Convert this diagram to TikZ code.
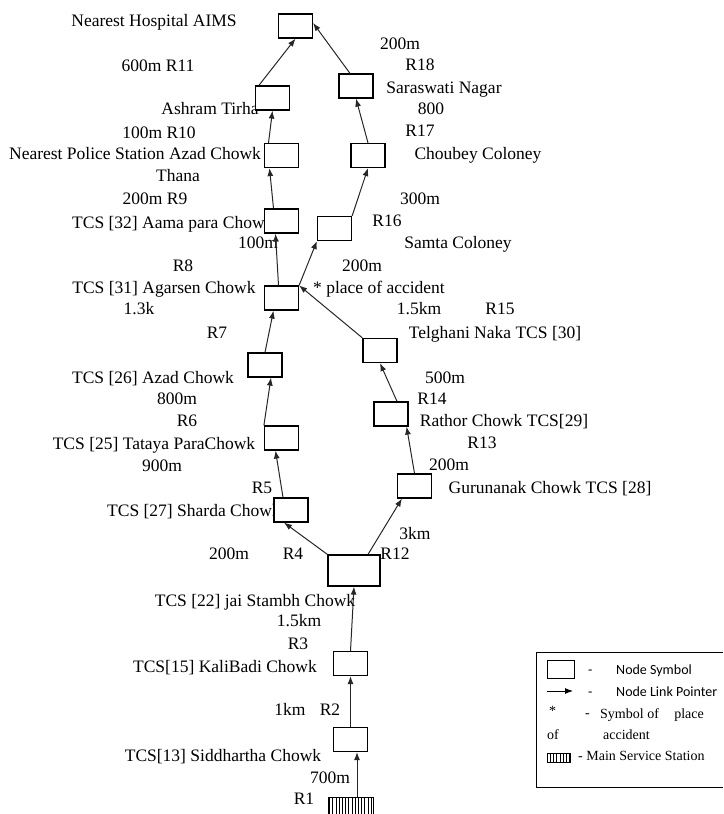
\documentclass[tikz,border=0pt]{standalone}
\usepackage{fontspec}
\setmainfont{Liberation Serif}
\newfontfamily\keyfont{Carlito}
\usetikzlibrary{arrows.meta,patterns.meta}

\begin{document}
\begin{tikzpicture}[x=1pt, y=-1pt, every node/.style={font=\fontsize{17.5}{21}\selectfont, inner sep=0pt, text height=13pt, text depth=1pt}, >={Latex[length=8pt,width=6pt]},
	junction/.style={draw, fill=white, line width=1.2pt, minimum width=34pt, minimum height=24pt, text height=0pt, text depth=0pt},
	hatchbox/.style={draw, line width=0.8pt, pattern={Lines[angle=90,distance=3.2pt,line width=1pt]}, text height=0pt, text depth=0pt},
	link/.style={->, draw=black!85, line width=1pt},
	keysans/.style={font=\keyfont\fontsize{14}{16}\selectfont, anchor=west, text height=11pt, text depth=1pt},
	keyserif/.style={font=\fontsize{14}{16}\selectfont, anchor=west, text height=11pt, text depth=1pt}]
	\useasboundingbox (0,0) rectangle (723,814);

	\node (hosp-txt) at (154,20) {Nearest Hospital AIMS};
	\node (r11) at (158,65) {600m R11};
	\node (ashram-txt) at (210,108) {Ashram Tirha};
	\node (r10) at (159,132) {100m R10};
	\node (police-txt) at (135,153) {Nearest Police Station Azad Chowk};
	\node (police-txt2) at (178,175) {Thana};
	\node (r9) at (155,198) {200m R9};
	\node[anchor=west] (aama-txt) at (72,222) {TCS [32] Aama para Chowk};
	\node (d8) at (258,242) {100m};
	\node (r8) at (183,265) {R8};
	\node (agarsen-txt) at (164,287) {TCS [31] Agarsen Chowk};
	\node (d7) at (139,308) {1.3k};
	\node (r7) at (217,332) {R7};
	\node (azad-txt) at (153,377) {TCS [26] Azad Chowk};
	\node (d6) at (177,398) {800m};
	\node (r6) at (187,420) {R6};
	\node (tataya-txt) at (154,443) {TCS [25] Tataya ParaChowk};
	\node (d5) at (162,465) {900m};
	\node (r5) at (262,487) {R5};
	\node[anchor=west] (sharda-txt) at (107,510) {TCS [27] Sharda Chowk};
	\node (d4) at (229,553) {200m};
	\node (r4) at (293,553) {R4};
	\node (d12) at (415,533) {3km};
	\node (r12) at (395,553) {R12};
	\node (jai-txt) at (255,600) {TCS [22] jai Stambh Chowk};
	\node (d3) at (299,620) {1.5km};
	\node (r3) at (298,643) {R3};
	\node (kali-txt) at (225,666) {TCS[15] KaliBadi Chowk};
	\node (d2) at (290,709) {1km};
	\node (r2) at (330,709) {R2};
	\node (sidd-txt) at (223,755) {TCS[13] Siddhartha Chowk};
	\node (d1) at (330,777) {700m};
	\node (r1) at (304,798) {R1};

	\node (d18) at (400,43) {200m};
	\node (r18) at (420,64) {R18};
	\node (saras-txt) at (444,87) {Saraswati Nagar};
	\node (d17) at (431,108) {800};
	\node (r17) at (420,130) {R17};
	\node (choubey-txt) at (478,153) {Choubey Coloney};
	\node (d16) at (420,198) {300m};
	\node (r16) at (387,220) {R16};
	\node (samta-txt) at (458,242) {Samta Coloney};
	\node (d16b) at (362,265) {200m};
	\node (acc-txt) at (379,287) {* place of accident};
	\node (d15) at (419,308) {1.5km};
	\node (r15) at (500,308) {R15};
	\node (telghani-txt) at (495,332) {Telghani Naka TCS [30]};
	\node (d14) at (445,377) {500m};
	\node (r14) at (432,398) {R14};
	\node (rathor-txt) at (504,420) {Rathor Chowk TCS[29]};
	\node (r13) at (482,442) {R13};
	\node (d13) at (449,464) {200m};
	\node (guru-txt) at (550,487) {Gurunanak Chowk TCS [28]};

	\node[junction] (hosp) at (295.5,26) {};
	\node[junction] (ashram) at (272.5,98) {};
	\node[junction] (police) at (281.5,155.5) {};
	\node[junction] (aama) at (281.5,221) {};
	\node[junction] (agarsen) at (281.5,298) {};
	\node[junction] (azad) at (265,365) {};
	\node[junction] (tataya) at (281.5,438) {};
	\node[junction] (sharda) at (291,510) {};
	\node[junction, minimum width=52pt, minimum height=31pt] (jai) at (354,570.5) {};
	\node[junction] (kali) at (350.5,663.5) {};
	\node[junction] (sidd) at (350.5,739.5) {};
	\node[hatchbox, minimum width=45pt, minimum height=20pt] (station) at (350.5,807) {};
	\node[junction] (saras) at (356,86) {};
	\node[junction] (choubey) at (368,155.5) {};
	\node[junction] (samta) at (334.5,228.5) {};
	\node[junction] (telghani) at (380,350.5) {};
	\node[junction] (rathor) at (391,414) {};
	\node[junction] (guru) at (414.5,486) {};

	\draw[link] ([xshift=6.5pt]station.north) -- ([xshift=6.5pt]sidd.south);
	\draw[link] (sidd.north) -- (kali.south);
	\draw[link] (kali.north) -- (jai.south);
	\draw[link] (jai.north west) -- ([xshift=-7pt]sharda.south);
	\draw[link] ([xshift=14pt]jai.north) -- ([xshift=5pt]guru.south west);
	\draw[link] ([xshift=-8pt]sharda.north) -- ([xshift=-6pt]tataya.south);
	\draw[link] (tataya.north west) -- ([xshift=6pt]azad.south);
	\draw[link] (azad.north) -- ([xshift=-8pt]agarsen.south);
	\draw[link] ([xshift=-3pt]agarsen.north) -- ([xshift=-6pt]aama.south);
	\draw[link] ([xshift=-8pt]aama.north) -- ([xshift=-12pt]police.south);
	\draw[link] ([xshift=-13pt]police.north) -- (ashram.south);
	\draw[link] ([xshift=4pt]ashram.north west) -- (hosp.south);
	\draw[link] (agarsen.north east) -- (samta.south west);
	\draw[link] (samta.north east) -- (choubey.south);
	\draw[link] (choubey.north) -- (saras.south);
	\draw[link] ([xshift=-6pt]saras.north) -- ([yshift=3pt]hosp.east);
	\draw[link] (telghani.north west) -- (agarsen.north east);
	\draw[link] ([xshift=6pt]rathor.north) -- (telghani.south);
	\draw[link] (guru.north) -- ([xshift=-2pt]rathor.south east);

	\draw[line width=0.8pt] (723,652) -- (536,652) -- (536,787) -- (723,787);
	\node[junction, line width=0.8pt, minimum width=27pt, minimum height=18pt] (key-node) at (560.5,669) {};
	\node[keysans] (key-dash1) at (588,669) {-};
	\node[keysans] (key-txt1) at (616,669) {Node Symbol};
	\coordinate (key-a) at (547,691);
	\coordinate (key-b) at (573,691);
	\draw[->, line width=0.9pt] (key-a) -- (key-b);
	\node[keysans] (key-dash2) at (588,691) {-};
	\node[keysans] (key-txt2) at (616,691) {Node Link Pointer};
	\node[keyserif] (key-star) at (549,710) {*};
	\node[keyserif] (key-dash3) at (585,712) {-};
	\node[keyserif] (key-txt3) at (600,713) {Symbol of\hspace{1.1em}place};
	\node[keyserif] (key-txt4) at (547,734) {of};
	\node[keyserif] (key-txt5) at (603,734) {accident};
	\node[hatchbox, minimum width=23pt, minimum height=9pt] (key-stn) at (558.5,757.5) {};
	\node[keyserif] (key-txt6) at (578,755) {- Main Service Station};
\end{tikzpicture}
\end{document}
